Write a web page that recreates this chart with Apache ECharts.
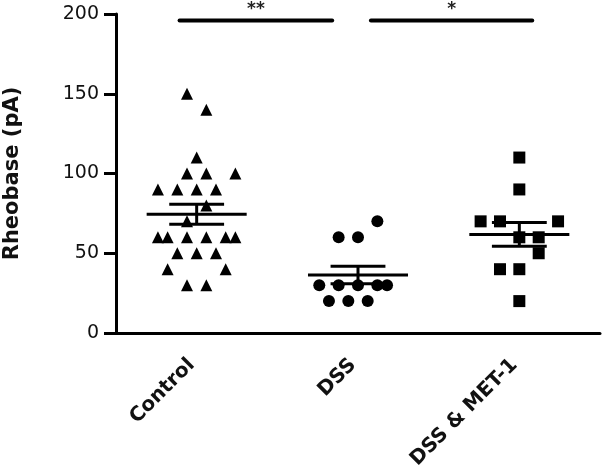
<!DOCTYPE html>
<html><head><meta charset="utf-8">
<script src="https://cdn.jsdelivr.net/npm/echarts@6/dist/echarts.min.js"></script>
<style>html,body{margin:0;padding:0;background:#fff}#c{width:603px;height:473px}</style>
</head><body><div id="c"></div>
<script>
// ---- data ----
const categories = ['Control', 'DSS', 'DSS & MET-1'];
const yTicks = [0, 50, 100, 150, 200];
const controlValues = [150,140,110,100,100,100,90,90,90,90,80,70,60,60,60,60,60,60,50,50,50,40,40,30,30];
const controlJitter = [-1,1,0,-1,1,4,-4,-2,0,2,1,-1,-4,-3,-1,1,3,4,-2,0,2,-3,3,-1,1];
const dssValues = [70,60,60,30,30,30,30,30,20,20,20];
const dssJitter = [2,-2,0,-4,-2,0,2,3,-3,-1,1];
const metValues = [110,90,70,70,70,60,60,50,40,40,20];
const metJitter = [0,0,-4,-2,4,0,2,2,-2,0,0];
// significance brackets: [from, to] in group units, height in pA, label
const sigFrom = [-0.106, 1.08];
const sigTo = [0.84, 2.08];
const sigLevel = [196, 196];
const sigLabels = ['**', '*'];

const groups = [controlValues, dssValues, metValues];
const jitters = [controlJitter, dssJitter, metJitter];
const symbols = ['triangle', 'circle', 'rect'];
const JSTEP = 0.06;
const FONT = 'DejaVu Sans';

function stats(v){
  const n = v.length, m = v.reduce((a,b)=>a+b,0)/n;
  const sd = Math.sqrt(v.reduce((a,b)=>a+(b-m)*(b-m),0)/(n-1));
  return [m, sd/Math.sqrt(n)];
}
const meanData = groups.map((g,i)=>{ const s = stats(g); return [i, s[0], s[1]]; });

const pointSeries = groups.map((g,gi)=>({
  type:'scatter', xAxisIndex:1, yAxisIndex:0,
  symbol: symbols[gi], symbolSize: 12,
  itemStyle:{color:'#000', opacity:1},
  emphasis:{disabled:true},
  data: g.map((v,k)=>[gi + jitters[gi][k]*JSTEP, v]),
  z:2
}));

function seg(a,b,w){
  return {type:'line', shape:{x1:a[0],y1:a[1],x2:b[0],y2:b[1]}, style:{stroke:'#000', lineWidth:w, lineCap:'butt'}};
}

const chart = echarts.init(document.getElementById('c'), null, {renderer:'canvas'});
chart.setOption({
  animation:false,
  backgroundColor:'#fff',
  grid:{left:116, right:3, top:14, bottom:140, containLabel:false, outerBoundsMode:'none'},
  xAxis:[{
    type:'category', data:categories, boundaryGap:true,
    axisLine:{onZero:false, lineStyle:{color:'#000', width:3}},
    axisTick:{alignWithLabel:true, length:10, lineStyle:{color:'#000', width:3}},
    axisLabel:{rotate:45, margin:24, padding:[0,7,0,0], color:'#111', fontFamily:FONT, fontWeight:'bold', fontSize:20, interval:0},
    splitLine:{show:false}
  },{
    type:'value', min:-0.5, max:2.5, show:false
  }],
  yAxis:{
    type:'value', min:0, max:200, interval:50,
    name:'Rheobase (pA)', nameLocation:'middle', nameGap:93, nameRotate:90,
    nameTextStyle:{fontFamily:FONT, fontWeight:'bold', fontSize:21, color:'#111'},
    axisLine:{show:true, onZero:false, lineStyle:{color:'#000', width:3}},
    axisTick:{show:true, length:12, lineStyle:{color:'#000', width:3}},
    axisLabel:{margin:17, color:'#111', fontFamily:FONT, fontSize:19,
      formatter:v=> yTicks.includes(v) ? String(v) : ''},
    splitLine:{show:false}
  },
  series: pointSeries.concat([
    {
      type:'custom', xAxisIndex:1, yAxisIndex:0, z:3,
      data: meanData,
      renderItem:(params, api)=>{
        const i = api.value(0), m = api.value(1), s = api.value(2);
        const p = (x,y)=>api.coord([x,y]);
        return {type:'group', children:[
          seg(p(i-0.31,m), p(i+0.31,m), 3),
          seg(p(i-0.17,m+s), p(i+0.17,m+s), 3),
          seg(p(i-0.17,m-s), p(i+0.17,m-s), 3),
          seg(p(i,m-s), p(i,m+s), 3)
        ]};
      }
    },
    {
      type:'custom', xAxisIndex:1, yAxisIndex:0, z:3, clip:false,
      data: sigFrom.map((f,k)=>[f, sigTo[k], sigLevel[k], k]),
      renderItem:(params, api)=>{
        const a = api.coord([api.value(0), api.value(2)]);
        const b = api.coord([api.value(1), api.value(2)]);
        const k = api.value(3);
        return {type:'group', children:[
          {type:'line', shape:{x1:a[0],y1:a[1],x2:b[0],y2:b[1]}, style:{stroke:'#000', lineWidth:4, lineCap:'round'}},
          {type:'text', x:(a[0]+b[0])/2, y:a[1]-2, style:{text:sigLabels[k], fontFamily:FONT, fontSize:17, fontWeight:'bold', fill:'#222', align:'center', verticalAlign:'bottom'}}
        ]};
      }
    }
  ])
});
</script></body></html>
